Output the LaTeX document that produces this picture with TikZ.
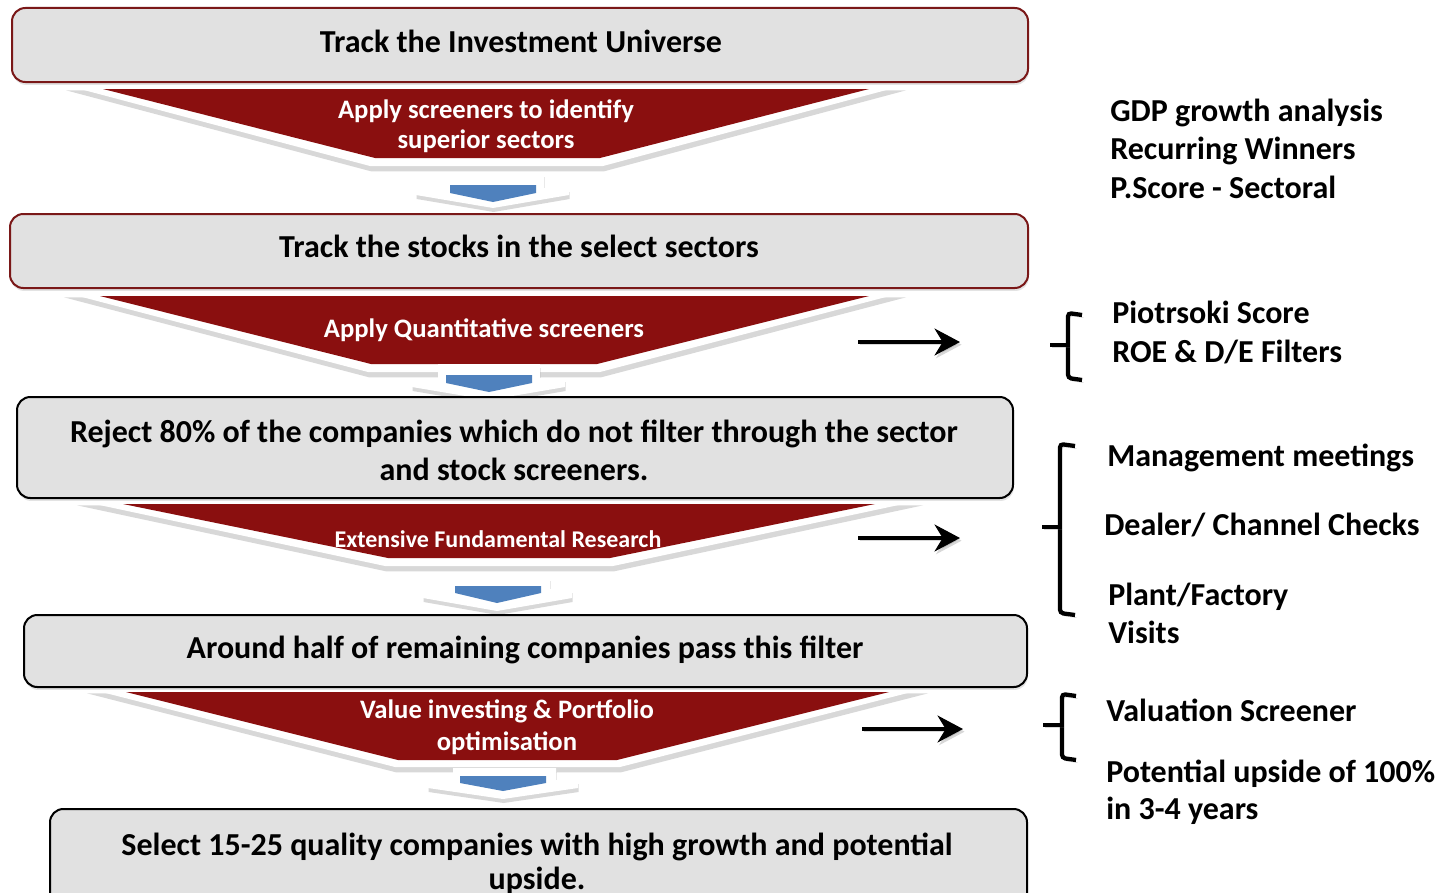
\documentclass[tikz,border=0pt]{standalone}
\usepackage{fontspec}
\setmainfont{Carlito}
\usetikzlibrary{shadows,fit,arrows.meta}
\definecolor{fred}{HTML}{8A0F0F}
\definecolor{bfill}{HTML}{E1E1E1}
\definecolor{bred}{HTML}{7A1818}
\definecolor{ablue}{HTML}{4F81BD}
\tikzset{
  boxr/.style={draw=bred, line width=1.5pt, fill=bfill, rounded corners=10pt, inner sep=0pt,
    drop shadow={opacity=0.22, shadow xshift=0.6pt, shadow yshift=-2.2pt}},
  boxk/.style={boxr, draw=black},
  bigtxt/.style={font=\fontsize{24}{28}\selectfont\bfseries, inner sep=0pt, anchor=base},
  funtxt/.style={font=\fontsize{20}{24}\selectfont\bfseries, text=white, inner sep=0pt, anchor=base},
  smalltxt/.style={font=\fontsize{18}{22}\selectfont\bfseries, text=white, inner sep=0pt, anchor=base},
  sidetxt/.style={font=\fontsize{24}{28}\selectfont\bfseries, inner sep=0pt, anchor=base west},
  funwhite/.style={fill=white, drop shadow={opacity=0.3, shadow xshift=0.8pt, shadow yshift=-4pt}},
  funred/.style={fill=fred},
  arrwhite/.style={fill=white, drop shadow={opacity=0.3, shadow xshift=0.5pt, shadow yshift=-3pt}},
  arrblue/.style={fill=ablue},
  rarr/.style={line width=3.4pt, -{Stealth[length=19pt, width=20pt, inset=6pt]},
    preaction={draw=black!60, opacity=0.25, transform canvas={shift={(1.2pt,-2pt)}}}},
  bracestyle/.style={line width=3.2pt, rounded corners=2.5pt,
    preaction={draw=black!60, opacity=0.25, transform canvas={shift={(1.2pt,-2pt)}}}},
}
\begin{document}
\begin{tikzpicture}[x=0.75pt,y=-0.75pt]
\useasboundingbox (0,0) rectangle (1444,892);
\clip (0,0) rectangle (1444,892);
\fill[white] (0,0) rectangle (1444,892);

% ---------- funnels (white outline + red) ----------
\fill[funwhite] (65,85) -- (905,85) -- (603,166) -- (370,166) -- cycle;
\fill[funred] (103,89) -- (869,89) -- (600,158) -- (375,158) -- cycle;

\fill[funwhite] (63,292) -- (905,292) -- (600,372) -- (368,372) -- cycle;
\fill[funred] (100,296) -- (869,296) -- (597,364) -- (371,364) -- cycle;

\fill[funwhite] (76,500) -- (922,500) -- (613,566) -- (385,566) -- cycle;
\fill[funred] (123,504) -- (875,504) -- (610,558) -- (388,558) -- cycle;

\fill[funwhite] (86,688) -- (927,688) -- (620,767) -- (395,767) -- cycle;
\fill[funred] (126,692) -- (889,692) -- (617,760) -- (398,760) -- cycle;

% ---------- small blue arrows ----------
\fill[arrwhite] (441,173) -- (544,173) -- (544,188) -- (569,188) -- (569,195) -- (493,208) -- (416,195) -- (416,188) -- (441,188) -- cycle;
\fill[arrblue] (450,185) -- (536,185) -- (536,193) -- (493,202) -- (450,193) -- cycle;

\fill[arrwhite] (438,364) -- (540,364) -- (540,378) -- (565,378) -- (565,387) -- (489,400) -- (412,387) -- (412,378) -- (438,378) -- cycle;
\fill[arrblue] (446,375) -- (532,375) -- (532,383) -- (489,392) -- (446,383) -- cycle;

\fill[arrwhite] (446,577) -- (550,577) -- (550,589) -- (572,589) -- (572,598) -- (497,611) -- (423,598) -- (423,589) -- (446,589) -- cycle;
\fill[arrblue] (455,586) -- (541,586) -- (541,593) -- (497,603) -- (455,593) -- cycle;

\fill[arrwhite] (453,768) -- (556,768) -- (556,780) -- (578,780) -- (578,788) -- (503,799) -- (428,788) -- (428,780) -- (453,780) -- cycle;
\fill[arrblue] (460,776) -- (546,776) -- (546,783) -- (503,791) -- (460,783) -- cycle;

% ---------- boxes ----------
\node[boxr, fit={(12,8) (1028,82)}] (b1) {};
\node[boxr, fit={(10,214) (1028,288)}] (b2) {};
\node[boxk, fit={(17,397) (1013,498)}] (b3) {};
\node[boxk, fit={(24,615) (1027,687)}] (b4) {};
\node[boxk, fit={(50,809) (1027,915)}] (b5) {};

% ---------- box texts ----------
\node[bigtxt] (t1) at (521,53) {Track the Investment Universe};
\node[bigtxt] (t2) at (519,257) {Track the stocks in the select sectors};
\node[bigtxt] (t3a) at (514,442) {Reject 80\% of the companies which do not filter through the sector};
\node[bigtxt] (t3b) at (514,480) {and stock screeners.};
\node[bigtxt] (t4) at (525,658) {Around half of remaining companies pass this filter};
\node[bigtxt] (t5a) at (537,855) {Select 15-25 quality companies with high growth and potential};
\node[bigtxt] (t5b) at (537,889) {upside.};

% ---------- funnel texts ----------
\node[funtxt] (f1a) at (486,118) {Apply screeners to identify};
\node[funtxt] (f1b) at (486,148) {superior sectors};
\node[funtxt] (f2) at (484,337) {Apply Quantitative screeners};
\node[smalltxt] (f3) at (498,547) {Extensive Fundamental Research};
\node[funtxt] (f4a) at (507,718) {Value investing \& Portfolio};
\node[funtxt] (f4b) at (507,750) {optimisation};

% ---------- right arrows ----------
\coordinate (r1s) at (858,342); \coordinate (r1e) at (960,342);
\coordinate (r2s) at (858,538); \coordinate (r2e) at (960,538);
\coordinate (r3s) at (862,729); \coordinate (r3e) at (963,729);
\draw[rarr] (r1s) -- (r1e);
\draw[rarr] (r2s) -- (r2e);
\draw[rarr] (r3s) -- (r3e);

% ---------- braces ----------
\draw[bracestyle] (1082,315) -- (1068,313) -- (1068,378) -- (1082,380);
\draw[bracestyle] (1068,345) -- (1050,345);
\draw[bracestyle] (1075,446) -- (1060,444) -- (1060,613) -- (1075,615);
\draw[bracestyle] (1060,527) -- (1042,527);
\draw[bracestyle] (1076,696) -- (1062,694) -- (1062,758) -- (1076,760);
\draw[bracestyle] (1062,725) -- (1043,725);

% ---------- right texts ----------
\node[sidetxt] (s1) at (1110,121) {GDP growth analysis};
\node[sidetxt] (s2) at (1110,159) {Recurring Winners};
\node[sidetxt] (s3) at (1110,198) {P.Score - Sectoral};
\node[sidetxt] (s4) at (1112,323) {Piotrsoki Score};
\node[sidetxt] (s5) at (1112,362) {ROE \& D/E Filters};
\node[sidetxt] (s6) at (1107,466) {Management meetings};
\node[sidetxt] (s7) at (1104,535) {Dealer/ Channel Checks};
\node[sidetxt] (s8) at (1108,605) {Plant/Factory};
\node[sidetxt] (s9) at (1108,643) {Visits};
\node[sidetxt] (s10) at (1106,721) {Valuation Screener};
\node[sidetxt] (s11) at (1106,782) {Potential upside of 100\%};
\node[sidetxt] (s12) at (1106,819) {in 3-4 years};
\end{tikzpicture}
\end{document}
